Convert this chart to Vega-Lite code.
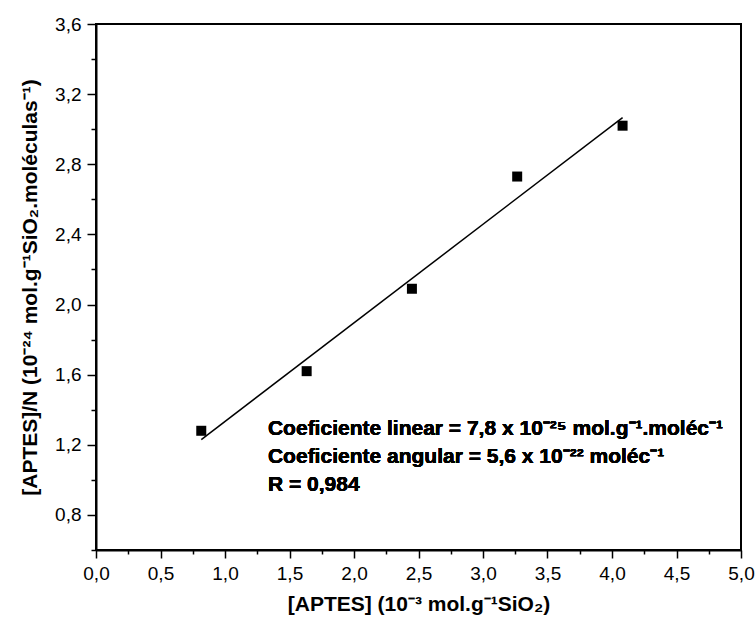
{
  "$schema": "https://vega.github.io/schema/vega-lite/v6.json",
  "width": 645,
  "height": 526,
  "autosize": {"type": "none"},
  "padding": {"left": 96, "top": 24, "right": 14, "bottom": 82},
  "background": "white",
  "config": {
    "font": "Liberation Sans",
    "view": {"stroke": "black", "strokeWidth": 2},
    "axis": {
      "domainColor": "black", "domainWidth": 2,
      "tickColor": "black", "tickWidth": 1.5,
      "labelColor": "black", "labelFont": "Liberation Sans", "labelFontSize": 19,
      "titleFont": "Liberation Sans", "titleFontSize": 21, "titleFontWeight": "bold", "titleColor": "black",
      "grid": false, "labelOverlap": false, "labelFlush": false, "tickCount": 100
    }
  },
  "data": {
    "values": [
      {"APTES": 0.816, "N": 1.28},
      {"APTES": 1.633, "N": 1.62},
      {"APTES": 2.449, "N": 2.09},
      {"APTES": 3.265, "N": 2.73},
      {"APTES": 4.082, "N": 3.02}
    ]
  },
  "layer": [
    {
      "transform": [{"regression": "N", "on": "APTES", "extent": [0.816, 4.082]}],
      "mark": {"type": "line", "color": "black", "strokeWidth": 1.5},
      "encoding": {
        "x": {
          "field": "APTES", "type": "quantitative",
          "scale": {"domain": [0, 5], "nice": false, "zero": false},
          "axis": {
            "values": [0, 0.25, 0.5, 0.75, 1, 1.25, 1.5, 1.75, 2, 2.25, 2.5, 2.75, 3, 3.25, 3.5, 3.75, 4, 4.25, 4.5, 4.75, 5],
            "tickCount": 100,
            "labelExpr": "round(datum.value*4)%2==0 ? replace(format(datum.value,'.1f'),'.',',') : ''",
            "tickSize": {"condition": {"test": "round(datum.value*4)%2==0", "value": 8}, "value": 4},
            "labelPadding": 6,
            "title": "[APTES] (10⁻³ mol.g⁻¹SiO₂)",
            "titlePadding": 10
          }
        },
        "y": {
          "field": "N", "type": "quantitative",
          "scale": {"domain": [0.6, 3.6], "nice": false, "zero": false},
          "axis": {
            "values": [0.6, 0.8, 1.0, 1.2, 1.4, 1.6, 1.8, 2.0, 2.2, 2.4, 2.6, 2.8, 3.0, 3.2, 3.4, 3.6],
            "tickCount": 100,
            "labelExpr": "round(datum.value*10)%4==0 ? replace(format(datum.value,'.1f'),'.',',') : ''",
            "tickSize": {"condition": {"test": "round(datum.value*10)%4==0", "value": 9}, "value": 5},
            "labelPadding": 6,
            "title": "[APTES]/N (10⁻²⁴ mol.g⁻¹SiO₂.moléculas⁻¹)",
            "titlePadding": 14
          }
        }
      }
    },
    {
      "mark": {"type": "square", "filled": true, "color": "black", "size": 100, "opacity": 1},
      "encoding": {
        "x": {"field": "APTES", "type": "quantitative"},
        "y": {"field": "N", "type": "quantitative"}
      }
    },
    {
      "mark": {"type": "text", "text": "Coeficiente linear = 7,8 x 10⁻²⁵ mol.g⁻¹.moléc⁻¹", "align": "left", "baseline": "middle", "fontSize": 21, "fontWeight": "bold", "color": "black"},
      "encoding": {"x": {"datum": 1.333}, "y": {"datum": 1.29}}
    },
    {
      "mark": {"type": "text", "text": "Coeficiente angular = 5,6 x 10⁻²² moléc⁻¹", "align": "left", "baseline": "middle", "fontSize": 21, "fontWeight": "bold", "color": "black"},
      "encoding": {"x": {"datum": 1.333}, "y": {"datum": 1.13}}
    },
    {
      "mark": {"type": "text", "text": "R = 0,984", "align": "left", "baseline": "middle", "fontSize": 21, "fontWeight": "bold", "color": "black"},
      "encoding": {"x": {"datum": 1.333}, "y": {"datum": 0.97}}
    }
  ]
}
